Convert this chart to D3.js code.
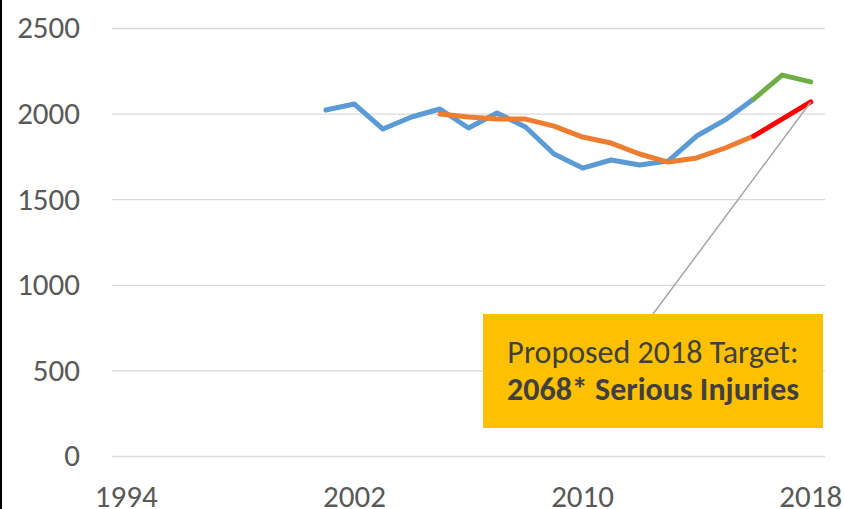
<!DOCTYPE html>
<html>
<head>
<meta charset="utf-8">
<script src="https://cdn.jsdelivr.net/npm/d3@7/dist/d3.min.js"></script>
<style>
  body { margin: 0; background: #fff; }
  svg { display: block; }
  svg text { font-family: Carlito, Lato, "Open Sans", sans-serif; }
</style>
</head>
<body>
<div id="chart"></div>
<script>
// years shown on the category axis
const years = d3.range(1994, 2019);
const yearTicks = [1994, 2002, 2010, 2018];
const valueTicks = [0, 500, 1000, 1500, 2000, 2500];

// actual serious injuries (blue), then the latest years (green)
const actualYears = [2001, 2002, 2003, 2004, 2005, 2006, 2007, 2008, 2009, 2010, 2011, 2012, 2013, 2014, 2015, 2016];
const actualValues = [2021, 2056, 1910, 1980, 2027, 1916, 2003, 1922, 1764, 1682, 1729, 1700, 1723, 1869, 1963, 2085];
const recentYears = [2016, 2017, 2018];
const recentValues = [2085, 2225, 2185];

// 5 year rolling average (orange) and the proposed target (red)
const avgYears = [2005, 2006, 2007, 2008, 2009, 2010, 2011, 2012, 2013, 2014, 2015, 2016];
const avgValues = [1998, 1980, 1968, 1968, 1927, 1863, 1828, 1764, 1717, 1741, 1799, 1869];
const targetYears = [2016, 2018];
const targetValues = [1869, 2068];

const width = 844, height = 509;
const plotLeft = 112, plotRight = 825, plotTop = 28, plotBottom = 456;

const svg = d3.select("#chart").append("svg")
    .attr("width", width)
    .attr("height", height);

// black edge on the left of the picture
svg.append("rect").attr("x", 0).attr("y", 0).attr("width", 2).attr("height", height).attr("fill", "#000");

const x = d3.scaleBand().domain(years).range([plotLeft, plotRight]);
const xc = d => x(d) + x.bandwidth() / 2;
const y = d3.scaleLinear().domain([0, 2500]).range([plotBottom, plotTop]);

// gridlines + y labels
const yAxis = svg.append("g")
    .attr("transform", `translate(${plotLeft},0)`)
    .call(d3.axisLeft(y).tickValues(valueTicks).tickFormat(d3.format("d"))
      .tickSize(-(plotRight - plotLeft)).tickPadding(32));
yAxis.attr("font-family", null);
yAxis.select(".domain").remove();
yAxis.selectAll(".tick line").attr("stroke", "#d9d9d9").attr("stroke-width", 1.3);
yAxis.selectAll(".tick text").attr("fill", "#595959").attr("font-size", 31);

// x labels
const xAxis = svg.append("g")
    .attr("transform", `translate(0,${plotBottom})`)
    .call(d3.axisBottom(x).tickValues(yearTicks).tickSize(0).tickPadding(29));
xAxis.attr("font-family", null);
xAxis.select(".domain").remove();
xAxis.selectAll(".tick text").attr("fill", "#595959").attr("font-size", 31);

const line = d3.line().x(d => xc(d[0])).y(d => y(d[1]));
const series = [
  [actualYears, actualValues, "#5b9bd5"],
  [avgYears, avgValues, "#ed7d31"],
  [recentYears, recentValues, "#70ad47"],
  [targetYears, targetValues, "#ff0000"]
];
series.forEach(s => {
  svg.append("path")
      .datum(d3.zip(s[0], s[1]))
      .attr("d", line)
      .attr("fill", "none")
      .attr("stroke", s[2])
      .attr("stroke-width", 5)
      .attr("stroke-linejoin", "round")
      .attr("stroke-linecap", "round");
});

// callout box
const boxX = 483, boxY = 314, boxW = 340, boxH = 114;
const tx = targetYears[targetYears.length - 1], tv = targetValues[targetValues.length - 1];
svg.append("line")
    .attr("x1", xc(tx)).attr("y1", y(tv))
    .attr("x2", 653).attr("y2", boxY)
    .attr("stroke", "#a6a6a6").attr("stroke-width", 1.5);
svg.append("rect")
    .attr("x", boxX).attr("y", boxY).attr("width", boxW).attr("height", boxH)
    .attr("fill", "#ffc000");
svg.append("text")
    .attr("x", boxX + boxW / 2).attr("y", 363)
    .attr("text-anchor", "middle")
    .attr("fill", "#404040").attr("font-size", 32)
    .text("Proposed 2018 Target:");
svg.append("text")
    .attr("x", boxX + boxW / 2).attr("y", 400)
    .attr("text-anchor", "middle")
    .attr("fill", "#404040").attr("font-size", 32).attr("font-weight", "bold")
    .text("2068* Serious Injuries");
</script>
</body>
</html>
